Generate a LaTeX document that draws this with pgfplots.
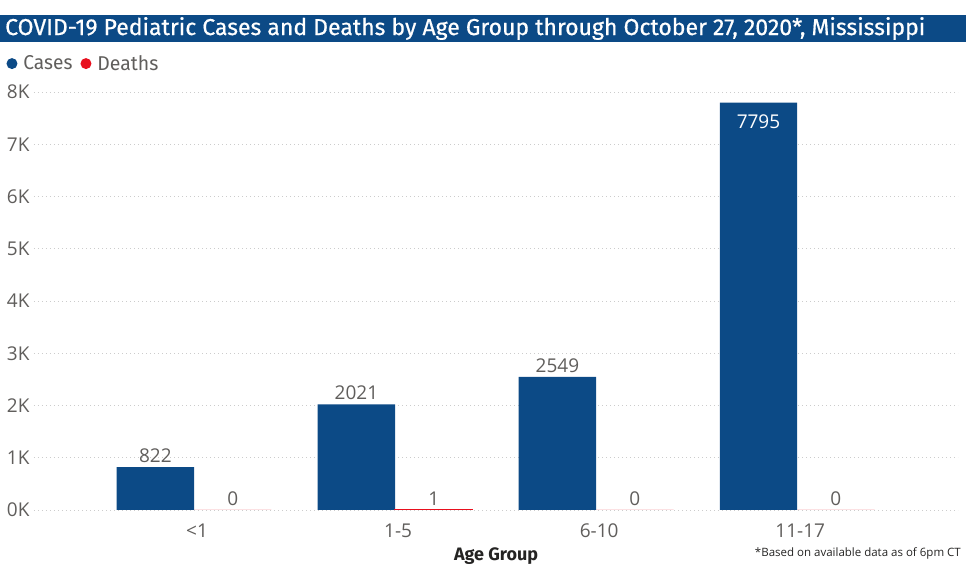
\documentclass[border=0pt]{standalone}
\usepackage{pgfplots}
\pgfplotsset{compat=1.18}
\usepackage{graphicx}
\usepackage{fontspec}
\setmainfont{Open Sans}
\newfontfamily\dinfont{Fira Sans}
\newfontfamily\titlefont{Fira Sans}[FakeBold=0.6]

\definecolor{navy}{HTML}{0C4A86}
\definecolor{deathred}{HTML}{E8101E}
\definecolor{labgray}{HTML}{605E5C}
\definecolor{darktext}{HTML}{252423}

\begin{document}
\begin{tikzpicture}[x=1bp,y=1bp]
\begin{axis}[
    name=ax,
    scale only axis,
    width=924bp, height=418bp,
    ybar,
    bar width=0.385,
    xmin=-0.796, xmax=3.80,
    ymin=0, ymax=8000,
    xtick={0,1,2,3},
    xticklabels={<1,1-5,6-10,11-17},
    ytick={0,1000,...,8000},
    yticklabels={0K,1K,2K,3K,4K,5K,6K,7K,8K},
    scaled y ticks=false,
    axis line style={draw=none},
    tick style={draw=none},
    ymajorgrids=true,
    major grid style={draw=gray!40, line width=0.9bp, dash pattern=on 1bp off 3bp},
    tick label style={font=\fontsize{19bp}{19bp}\selectfont, text=labgray},
    x tick label style={yshift=-6bp, xshift=3bp},
    y tick label style={xshift=-1bp},
    xlabel={\resizebox{84bp}{\height}{\dinfont\bfseries\fontsize{18bp}{18bp}\selectfont Age Group}},
    xlabel style={text=darktext, yshift=-3bp},
    point meta=explicit symbolic,
    nodes near coords,
    every node near coord/.append style={anchor=south, text=labgray,
      yshift=1bp, font=\fontsize{19bp}{19bp}\selectfont},
    legend style={at={(axis description cs:-0.030,1.068)}, anchor=west,
      draw=none, fill=none, inner sep=0pt,
      font=\dinfont\fontsize{20bp}{20bp}\selectfont, text=labgray,
      /tikz/every even column/.append style={column sep=6bp}},
    legend columns=2,
    legend cell align=left,
]
\addplot[fill=navy, draw=none, bar shift=-0.1925,
    legend image code/.code={\fill[navy] (2bp,0bp) circle (5.5bp);}]
  coordinates {(0,822) [822] (1,2021) [2021] (2,2549) [2549] (3,7795) []};
\addlegendentry{\hspace*{4bp}\resizebox{49bp}{\height}{Cases}}
\addplot[fill=deathred, draw=none, bar shift=0.1925,
    legend image code/.code={\fill[deathred] (2bp,0bp) circle (5.5bp);}]
  coordinates {(0,0) [0] (1,1) [1] (2,0) [0] (3,0) [0]};
\addlegendentry{\hspace*{4bp}\resizebox{61bp}{\height}{Deaths}}
% the one death bar shows as a thin red line
\addplot[fill=deathred, draw=deathred, line width=1.6bp, bar shift=0.1925,
    forget plot, nodes near coords={}]
  coordinates {(1,1) []};
% label of the tall bar sits inside it
\addplot[fill=none, draw=none, bar shift=-0.1925, forget plot,
    every node near coord/.append style={anchor=north, text=white, yshift=-10bp}]
  coordinates {(3,7795) [7795]};
\coordinate (sw) at (rel axis cs:0,0);
\end{axis}

\pgfresetboundingbox
\begin{scope}[shift={(sw)}]
\useasboundingbox (-34,-71) rectangle (946,510);
% title bar
\fill[navy] (-34,468) rectangle (932,495);
\node[anchor=west, inner sep=0, text=white] at (-29,481.5)
  {\resizebox{920bp}{\height}{\titlefont\fontsize{23bp}{23bp}\selectfont COVID-19 Pediatric Cases and Deaths by Age Group through October 27, 2020*, Mississippi}};
\node[anchor=east, inner sep=0, text=darktext] at (927,-43)
  {\fontsize{11.5bp}{11.5bp}\selectfont *Based on available data as of 6pm CT};
\end{scope}
\end{tikzpicture}
\end{document}
